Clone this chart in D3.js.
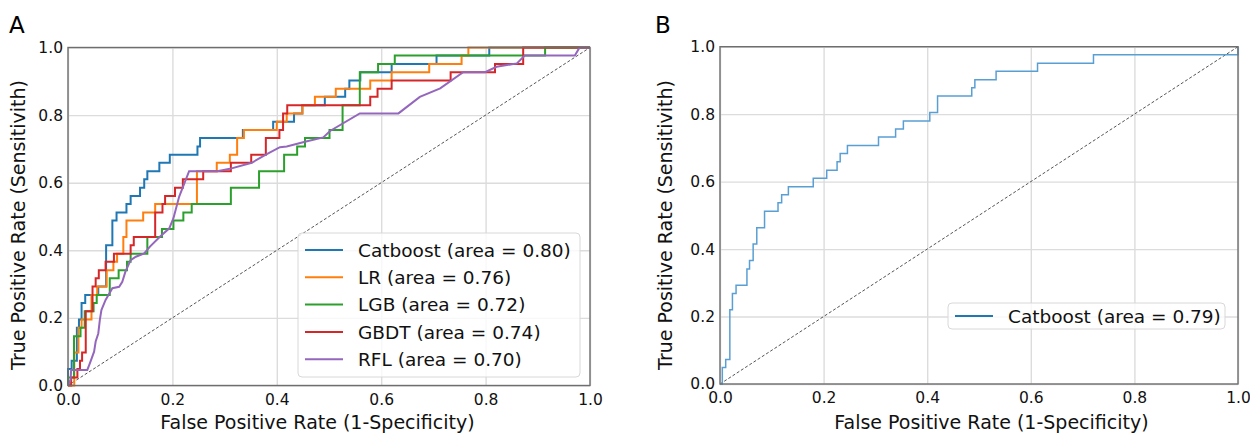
<!DOCTYPE html>
<meta charset="utf-8">
<style>
  body { margin: 0; background: #fff; }
  text { font-family: "DejaVu Sans", sans-serif; }
</style>

<body>
  <script src="https://cdn.jsdelivr.net/npm/d3@7"></script>
  <script>
    // roc points [fpr, tpr]
    var catboostA = [[0,0],[0,0.049],[0.007,0.049],[0.007,0.073],[0.017,0.073],[0.017,0.171],[0.021,0.171],[0.021,0.195],[0.026,0.195],[0.026,0.244],[0.033,0.244],[0.033,0.268],[0.058,0.268],[0.058,0.293],[0.073,0.293],[0.073,0.415],[0.085,0.415],[0.085,0.488],[0.093,0.488],[0.093,0.512],[0.112,0.512],[0.112,0.537],[0.12,0.537],[0.12,0.561],[0.138,0.561],[0.138,0.585],[0.146,0.585],[0.146,0.61],[0.152,0.61],[0.152,0.634],[0.175,0.634],[0.175,0.659],[0.195,0.659],[0.195,0.683],[0.248,0.683],[0.248,0.707],[0.253,0.707],[0.253,0.732],[0.335,0.732],[0.335,0.756],[0.393,0.756],[0.393,0.78],[0.433,0.78],[0.433,0.805],[0.449,0.805],[0.449,0.829],[0.492,0.829],[0.492,0.854],[0.531,0.854],[0.531,0.878],[0.539,0.878],[0.539,0.902],[0.56,0.902],[0.56,0.927],[0.62,0.927],[0.62,0.951],[0.706,0.951],[0.706,0.976],[0.807,0.976],[0.807,1],[1,1]];

    var lrA = [[0,0],[0.012,0],[0.012,0.098],[0.02,0.098],[0.02,0.171],[0.026,0.171],[0.026,0.195],[0.045,0.195],[0.045,0.268],[0.056,0.268],[0.056,0.293],[0.074,0.293],[0.074,0.341],[0.087,0.341],[0.087,0.366],[0.094,0.366],[0.094,0.39],[0.106,0.39],[0.106,0.439],[0.112,0.439],[0.112,0.488],[0.144,0.488],[0.144,0.512],[0.167,0.512],[0.167,0.537],[0.247,0.537],[0.247,0.634],[0.285,0.634],[0.285,0.659],[0.31,0.659],[0.31,0.683],[0.324,0.683],[0.324,0.732],[0.337,0.732],[0.337,0.756],[0.4,0.756],[0.4,0.78],[0.419,0.78],[0.419,0.805],[0.449,0.805],[0.449,0.829],[0.473,0.829],[0.473,0.854],[0.513,0.854],[0.513,0.878],[0.579,0.878],[0.579,0.902],[0.62,0.902],[0.62,0.927],[0.692,0.927],[0.692,0.951],[0.754,0.951],[0.754,0.976],[0.767,0.976],[0.767,1],[1,1]];

    var lgbA = [[0,0],[0,0.024],[0.0115,0.024],[0.0115,0.146],[0.024,0.146],[0.024,0.171],[0.032,0.171],[0.032,0.22],[0.049,0.22],[0.049,0.244],[0.055,0.244],[0.055,0.268],[0.08,0.268],[0.08,0.317],[0.097,0.317],[0.097,0.341],[0.113,0.341],[0.113,0.366],[0.12,0.366],[0.12,0.39],[0.152,0.39],[0.152,0.439],[0.18,0.439],[0.18,0.463],[0.202,0.463],[0.202,0.488],[0.221,0.488],[0.221,0.512],[0.237,0.512],[0.237,0.537],[0.312,0.537],[0.312,0.585],[0.366,0.585],[0.366,0.634],[0.414,0.634],[0.414,0.683],[0.439,0.683],[0.439,0.707],[0.454,0.707],[0.454,0.732],[0.501,0.732],[0.501,0.756],[0.526,0.756],[0.526,0.829],[0.559,0.829],[0.559,0.927],[0.594,0.927],[0.594,0.951],[0.626,0.951],[0.626,0.976],[0.914,0.976],[0.914,1],[1,1]];

    var gbdtA = [[0,0],[0.006,0],[0.006,0.024],[0.018,0.024],[0.018,0.049],[0.023,0.049],[0.023,0.073],[0.027,0.073],[0.027,0.098],[0.034,0.098],[0.034,0.22],[0.047,0.22],[0.047,0.293],[0.053,0.293],[0.053,0.317],[0.059,0.317],[0.059,0.341],[0.072,0.341],[0.072,0.366],[0.088,0.366],[0.088,0.39],[0.12,0.39],[0.12,0.415],[0.126,0.415],[0.126,0.439],[0.167,0.439],[0.167,0.512],[0.181,0.512],[0.181,0.537],[0.186,0.537],[0.186,0.561],[0.205,0.561],[0.205,0.585],[0.22,0.585],[0.22,0.61],[0.259,0.61],[0.259,0.634],[0.312,0.634],[0.312,0.659],[0.351,0.659],[0.351,0.683],[0.379,0.683],[0.379,0.732],[0.405,0.732],[0.405,0.756],[0.412,0.756],[0.412,0.805],[0.42,0.805],[0.42,0.829],[0.579,0.829],[0.579,0.854],[0.593,0.854],[0.593,0.878],[0.62,0.878],[0.62,0.902],[0.733,0.902],[0.733,0.927],[0.818,0.927],[0.818,0.951],[0.872,0.951],[0.872,1],[1,1]];

    var rflA = [[0,0],[0.005,0.018],[0.006,0.046],[0.037,0.046],[0.042,0.066],[0.05,0.1],[0.053,0.13],[0.058,0.154],[0.061,0.194],[0.064,0.223],[0.072,0.253],[0.085,0.288],[0.098,0.292],[0.104,0.307],[0.11,0.337],[0.12,0.371],[0.13,0.381],[0.146,0.391],[0.157,0.411],[0.176,0.44],[0.194,0.465],[0.202,0.495],[0.213,0.559],[0.232,0.634],[0.286,0.634],[0.31,0.641],[0.352,0.659],[0.379,0.683],[0.406,0.705],[0.419,0.707],[0.454,0.721],[0.489,0.734],[0.502,0.753],[0.559,0.805],[0.633,0.805],[0.674,0.854],[0.713,0.879],[0.757,0.927],[0.799,0.927],[0.821,0.943],[0.86,0.953],[0.875,0.976],[0.971,0.976],[0.98,1],[1,1]];

    var catboostB = [[0,0],[0.0045,0],[0.0045,0.049],[0.011,0.049],[0.011,0.073],[0.019,0.073],[0.019,0.22],[0.024,0.22],[0.024,0.268],[0.031,0.268],[0.031,0.293],[0.052,0.293],[0.052,0.341],[0.057,0.341],[0.057,0.366],[0.064,0.366],[0.064,0.415],[0.071,0.415],[0.071,0.463],[0.086,0.463],[0.086,0.512],[0.112,0.512],[0.112,0.537],[0.119,0.537],[0.119,0.561],[0.132,0.561],[0.132,0.585],[0.18,0.585],[0.18,0.61],[0.206,0.61],[0.206,0.634],[0.226,0.634],[0.226,0.659],[0.232,0.659],[0.232,0.683],[0.246,0.683],[0.246,0.707],[0.306,0.707],[0.306,0.732],[0.339,0.732],[0.339,0.756],[0.354,0.756],[0.354,0.78],[0.405,0.78],[0.405,0.805],[0.42,0.805],[0.42,0.854],[0.486,0.854],[0.486,0.878],[0.492,0.878],[0.492,0.902],[0.533,0.902],[0.533,0.927],[0.613,0.927],[0.613,0.951],[0.721,0.951],[0.721,0.976],[1,0.976],[1,1]];

    var modelsA = ["Catboost", "LR", "LGB", "GBDT", "RFL"];
    var aucA = [0.80, 0.76, 0.72, 0.74, 0.70];
    var modelsB = ["Catboost"];
    var aucB = [0.79];
    var tickValues = [0, 0.2, 0.4, 0.6, 0.8, 1.0];

    var colorsA = ["#1f77b4", "#ff7f0e", "#2ca02c", "#d62728", "#9467bd"];

    var svg = d3.select("body").append("svg")
      .attr("width", 1250)
      .attr("height", 433);

    svg.append("rect").attr("width", 1250).attr("height", 433).attr("fill", "#fff");

    function drawPanel(p) {
      var x = d3.scaleLinear().domain([0, 1]).range([p.left, p.right]),
        y = d3.scaleLinear().domain([0, 1]).range([p.bottom, p.top]);
      var h = p.bottom - p.top, w = p.right - p.left;

      var g = svg.append("g");

      // grid
      g.append("g")
        .attr("transform", "translate(0," + p.bottom + ")")
        .call(d3.axisBottom(x).tickValues(tickValues).tickSize(-h).tickFormat(""))
        .call(function(s) {
          s.select(".domain").remove();
          s.selectAll("line").attr("stroke", "#dcdcdc").attr("stroke-width", 1.4);
        });
      g.append("g")
        .attr("transform", "translate(" + p.left + ",0)")
        .call(d3.axisLeft(y).tickValues(tickValues).tickSize(-w).tickFormat(""))
        .call(function(s) {
          s.select(".domain").remove();
          s.selectAll("line").attr("stroke", "#dcdcdc").attr("stroke-width", 1.4);
        });

      // chance line
      g.append("line")
        .attr("x1", x(0)).attr("y1", y(0))
        .attr("x2", x(1)).attr("y2", y(1))
        .attr("stroke", "#555")
        .attr("stroke-width", 1)
        .attr("stroke-dasharray", "3,2");

      var line = d3.line()
        .x(function(d) { return x(d[0]); })
        .y(function(d) { return y(d[1]); });

      p.series.forEach(function(s, i) {
        g.append("path")
          .datum(s)
          .attr("d", line)
          .attr("fill", "none")
          .attr("stroke", p.lineColors[i])
          .attr("stroke-width", p.lineWidth)
          .attr("stroke-linejoin", "miter");
      });

      // frame
      g.append("rect")
        .attr("x", p.left).attr("y", p.top)
        .attr("width", w).attr("height", h)
        .attr("fill", "none")
        .attr("stroke", "#6e6e6e")
        .attr("stroke-width", 1.4);

      // axes
      var fmt = d3.format(".1f");
      g.append("g")
        .attr("transform", "translate(0," + p.bottom + ")")
        .call(d3.axisBottom(x).tickValues(tickValues).tickFormat(fmt).tickSize(0).tickPadding(8))
        .call(function(s) {
          s.select(".domain").remove();
          s.selectAll("text").attr("font-size", 15.5).attr("fill", "#111")
            .attr("font-family", "DejaVu Sans");
        });
      g.append("g")
        .attr("transform", "translate(" + p.left + ",0)")
        .call(d3.axisLeft(y).tickValues(tickValues).tickFormat(fmt).tickSize(0).tickPadding(5))
        .call(function(s) {
          s.select(".domain").remove();
          s.selectAll("text").attr("font-size", 15.5).attr("fill", "#111")
            .attr("font-family", "DejaVu Sans");
        });

      // axis titles
      g.append("text")
        .attr("x", p.xTitleX).attr("y", 428.5)
        .attr("text-anchor", "middle")
        .attr("font-size", 19)
        .attr("fill", "#111")
        .text("False Positive Rate (1-Specificity)");
      g.append("text")
        .attr("transform", "translate(" + p.yTitleX + "," + 225 + ") rotate(-90)")
        .attr("text-anchor", "middle")
        .attr("font-size", 19)
        .attr("fill", "#111")
        .text("True Positive Rate (Sensitivith)");

      // panel letter
      g.append("text")
        .attr("x", p.letterX).attr("y", 33)
        .attr("font-size", 23)
        .attr("fill", "#000")
        .text(p.letter);

      // legend
      var lg = p.legend;
      g.append("rect")
        .attr("x", lg.x).attr("y", lg.y)
        .attr("width", lg.w).attr("height", lg.h)
        .attr("rx", 4)
        .attr("fill", "#fff").attr("fill-opacity", 0.8)
        .attr("stroke", "#d8d8d8");
      p.names.forEach(function(n, i) {
        var cy = lg.firstRow + i * lg.step;
        g.append("line")
          .attr("x1", lg.x + 7).attr("x2", lg.x + 45)
          .attr("y1", cy).attr("y2", cy)
          .attr("stroke", p.legendColors[i])
          .attr("stroke-width", 2);
        g.append("text")
          .attr("x", lg.x + 60).attr("y", cy)
          .attr("dy", "0.36em")
          .attr("font-size", 18.5)
          .attr("fill", "#111")
          .text(n + " (area = " + d3.format(".2f")(p.auc[i]) + ")");
      });
    }

    drawPanel({
      left: 68, right: 590, top: 47.5, bottom: 385.5,
      series: [catboostA, lrA, lgbA, gbdtA, rflA],
      lineColors: colorsA, legendColors: colorsA, lineWidth: 2,
      names: modelsA, auc: aucA,
      xTitleX: 317.5, yTitleX: 25, letter: "A", letterX: 9,
      legend: { x: 298, y: 233, w: 282, h: 144, firstRow: 250, step: 27.3 }
    });

    drawPanel({
      left: 720, right: 1238, top: 46.7, bottom: 384,
      series: [catboostB],
      lineColors: ["#5a9fd4"], legendColors: ["#1f77b4"], lineWidth: 1.5,
      names: modelsB, auc: aucB,
      xTitleX: 991.5, yTitleX: 671.5, letter: "B", letterX: 655,
      legend: { x: 948, y: 303, w: 277, h: 26, firstRow: 316, step: 27.3 }
    });
  </script>
</body>

</html>
